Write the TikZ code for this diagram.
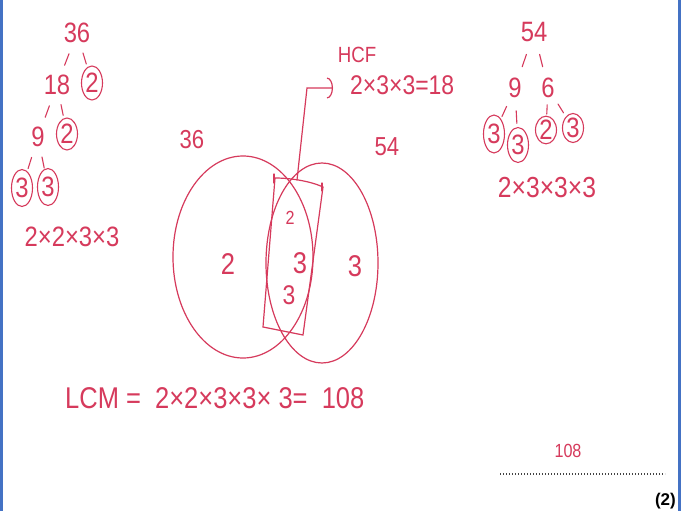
\documentclass[tikz,border=0pt]{standalone}
\usepackage{fontspec}
\setmainfont{Liberation Sans}
\newfontfamily\hand{Liberation Sans}[FakeStretch=0.85]
\usetikzlibrary{arrows.meta,calc,shapes.geometric}
\definecolor{pen}{HTML}{D63A5C}
\definecolor{frame}{HTML}{4472C4}
\definecolor{dotgray}{HTML}{444444}

\begin{document}
\begin{tikzpicture}[x=1pt, y=-1pt,
  hw/.style={font=\hand\fontsize{#1}{#1}\selectfont, text=pen, inner sep=0pt},
  hw/.default=28,
  ringed/.style={hw, draw=pen, line width=1.1pt, ellipse, minimum width=21pt, minimum height=34pt},
  penline/.style={draw=pen, line width=1.2pt, line cap=round},
  branch/.style={draw=pen, line width=1.1pt, line cap=round}
]
\fill[white] (0,0) rectangle (681,511);
\fill[frame] (0,0) rectangle (3,511);
\fill[frame] (678,0) rectangle (681,511);

% factor tree of 36
\node[hw] (l36) at (77,33) {36};
\node[hw] (l18) at (57,85) {18};
\node[ringed] (l2a) at (92,83) {2};
\node[hw] (l9) at (38,137) {9};
\node[ringed, minimum height=32pt] (l2b) at (67,134) {2};
\node[ringed, minimum height=37pt] (l3a) at (22,188) {3};
\node[ringed, minimum height=37pt] (l3b) at (48,187) {3};
\node[hw=28] (lprod) at (72,237) {2×2×3×3};

% factor tree of 54
\node[hw] (r54) at (534,32) {54};
\node[hw] (r9) at (515,88) {9};
\node[hw] (r6) at (548,88) {6};
\node[ringed, minimum height=38pt] (r3a) at (494,134) {3};
\node[ringed, minimum height=35pt] (r3b) at (518,145) {3};
\node[ringed, minimum height=26pt] (r2) at (546,130) {2};
\node[ringed, minimum height=29pt] (r3c) at (573,128) {3};
\node[hw=29] (rprod) at (547,188) {2×3×3×3};

\foreach \a/\b in {l36/l18, l36/l2a, l18/l9, l18/l2b, l9/l3a, l9/l3b,
                   r54/r9, r54/r6, r9/r3a, r9/r3b, r6/r2, r6/r3c}
  \draw[branch] ($(\a)!0.4!(\b)$) -- ($(\a)!0.62!(\b)$);

% venn diagram
\node[hw=26] (set36) at (192,140) {36};
\node[hw=26] (set54) at (387,147) {54};
\draw[penline] (243,257) ellipse [x radius=70, y radius=101];
\draw[penline] (322,263) ellipse [x radius=56, y radius=100];
\draw[penline] (275,178) .. controls (290,178) and (310,181) .. (323,187)
  -- (303,335) -- (263,327) -- cycle;
\draw[penline] (274,174) -- (274,183);
\draw[penline] (322,183) -- (322,191);
\coordinate (top) at (297,180);
\coordinate (bend) at (307,88);

\node[hw=30] (only36) at (228,264) {2};
\node[hw=19] (both2) at (290,218) {2};
\node[hw=30] (both3) at (300,263) {3};
\node[hw=27] (both3b) at (289,295) {3};
\node[hw=30] (only54) at (355,266) {3};

% highest common factor
\node[hw=22] (hcf) at (357,55) {HCF};
\node[hw=27, anchor=west] (hcfval) at (350,85) {2×3×3=18};
\draw[penline, -{Arc Barb[length=6pt, width=21pt, line width=1.2pt]}, shorten >=17pt]
  (top) -- (bend) -- (bend -| hcfval.west);

% lowest common multiple
\node[hw=30, anchor=west] (lcm) at (65,398) {LCM = \ 2×2×3×3× 3= \ 108};

% answer line
\node[hw=19] (ans) at (568,451) {108};
\coordinate (dotl) at (500,474);
\coordinate (dotr) at (665,474);
\draw[dotgray, line width=1.3pt, dash pattern=on 1.3pt off 1.7pt] (dotl) -- (dotr);
\node[font=\bfseries\fontsize{17}{17}\selectfont, anchor=east, inner sep=0pt] (marks) at (676,501) {(2)};
\end{tikzpicture}
\end{document}
